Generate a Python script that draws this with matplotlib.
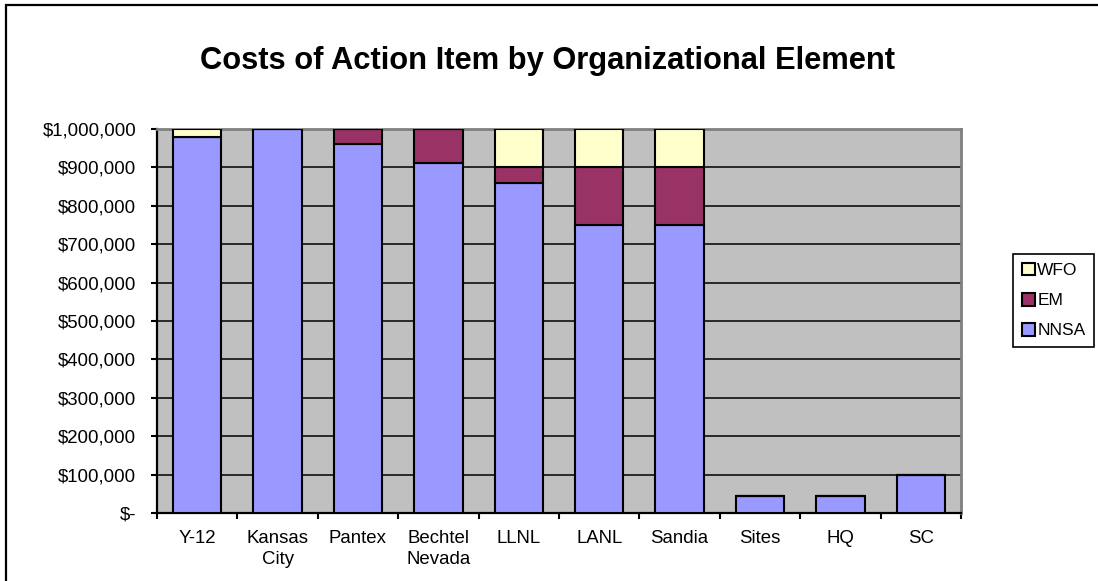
import numpy as np
import matplotlib
matplotlib.use("Agg")
from matplotlib import pyplot as plt
from matplotlib.patches import Rectangle, Patch
from matplotlib.ticker import FuncFormatter

plt.rcParams['font.family'] = ['Liberation Sans', 'DejaVu Sans']

### data
categories = ['Y-12', 'Kansas\nCity', 'Pantex', 'Bechtel\nNevada', 'LLNL',
              'LANL', 'Sandia', 'Sites', 'HQ', 'SC']
nnsa = [980000, 1000000, 960000, 912000, 860000, 750000, 750000, 44000, 44000, 100000]
em = [0, 0, 40000, 88000, 40000, 150000, 150000, 0, 0, 0]
wfo = [20000, 0, 0, 0, 100000, 100000, 100000, 0, 0, 0]
series_names = ['NNSA', 'EM', 'WFO']
series_colors = ['#9999FF', '#993366', '#FFFFCC']

W, H = 1098., 581.
fig = plt.figure(figsize=(W/100., H/100.), dpi=100)

# outer chart border
fig.patches.append(Rectangle((6/W, -0.1), 1.2, 1 - 5/H + 0.1, transform=fig.transFigure,
                             fill=False, edgecolor='black', lw=1.6))

# plot area
ax = fig.add_axes([157/W, 1 - 513/H, (961 - 157)/W, (513 - 129)/H])
ax.set_facecolor('#C0C0C0')

x = np.arange(len(categories))
bottom = np.zeros(len(categories))
for vals, name, col in zip([nnsa, em, wfo], series_names, series_colors):
    vals = np.array(vals, dtype=float)
    ax.bar(x, vals, 0.6, bottom=bottom, color=col, edgecolor='black', lw=1.5,
           label=name, zorder=3)
    bottom = bottom + vals

ax.set_xlim(-0.5, len(categories) - 0.5)
ax.set_ylim(0, 1000000)
ax.set_yticks(np.arange(0, 1000001, 100000))
ax.yaxis.set_major_formatter(FuncFormatter(lambda v, p: '$-' if v == 0 else '${:,.0f}'.format(v)))
ax.yaxis.grid(True, color='black', lw=1.1)
ax.set_axisbelow(True)

# ticks at category boundaries, labels in the middle
ax.set_xticks(np.arange(-0.5, len(categories), 1.0))
ax.set_xticklabels([])
ax.set_xticks(x, minor=True)
ax.set_xticklabels(categories, minor=True, fontsize=13.4, linespacing=1.3)
ax.tick_params(axis='x', which='minor', length=0, pad=12)
ax.tick_params(axis='x', which='major', length=4, width=1.5, direction='out')
ax.tick_params(axis='y', length=4, width=1.5, direction='out', pad=11, labelsize=13.4)

for s in ['left', 'bottom']:
    ax.spines[s].set_color('black')
    ax.spines[s].set_linewidth(1.6)
for s in ['top', 'right']:
    ax.spines[s].set_color('#808080')
    ax.spines[s].set_linewidth(2)

fig.text(548/W, 1 - 69/H, 'Costs of Action Item by Organizational Element',
         fontsize=22.2, fontweight='bold', ha='center', va='baseline')

handles = [Patch(facecolor=c, edgecolor='black', lw=1.5) for c in series_colors][::-1]
leg = fig.legend(handles, series_names[::-1], loc='upper left',
                 bbox_to_anchor=(1013/W, 1 - 254/H), fontsize=12.5,
                 frameon=True, fancybox=False, framealpha=1, edgecolor='black',
                 handlelength=0.75, handleheight=0.75, handletextpad=0.15,
                 labelspacing=0.85, borderpad=0.5, borderaxespad=0)
leg.get_frame().set_linewidth(1.2)

fig.savefig('out.png', dpi=100)
